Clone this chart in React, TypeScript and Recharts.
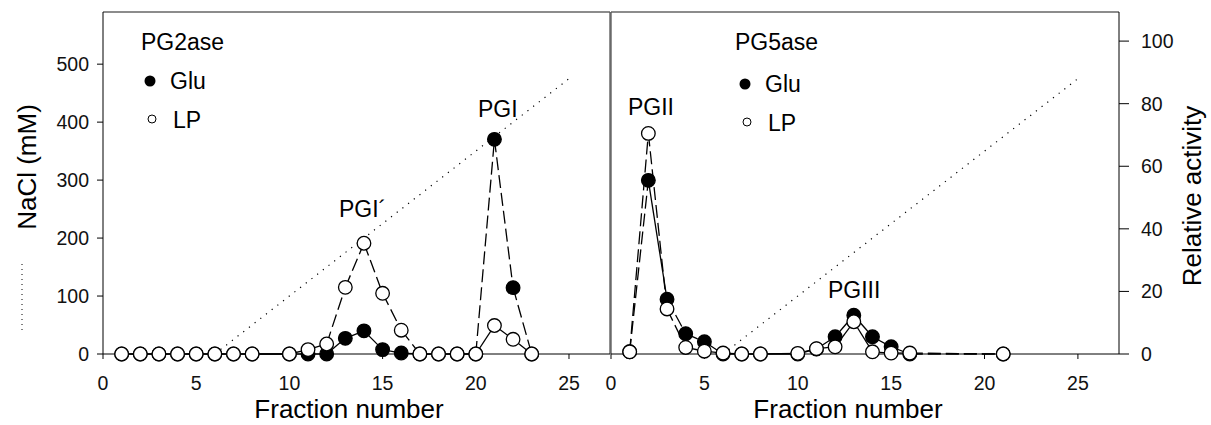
import React from "react"
import { ComposedChart, Line, XAxis, YAxis, ReferenceLine } from "recharts"

const FONT = '"Liberation Sans", Arial, sans-serif'

// PG2ase (left panel), relative activity per fraction
const leftFractions = [1, 2, 3, 4, 5, 6, 7, 8, 10, 11, 12, 13, 14, 15, 16, 17, 18, 19, 20, 21, 22, 23]
const leftGlu = [0, 0, 0, 0, 0, 0, 0, 0, 0, 0, 0, 5.0, 7.4, 1.4, 0.3, 0, 0, 0, 0, 68.6, 21.2, 0]
const leftLp = [0, 0, 0, 0, 0, 0, 0, 0, 0, 1.4, 3.2, 21.3, 35.4, 19.4, 7.6, 0, 0, 0, 0, 9.1, 4.7, 0]
// fractions where a dashed segment starts
const leftGluDashFrom = [20, 21, 22]
const leftLpDashFrom = [12, 13, 14, 15, 16]

// PG5ase (right panel)
const rightFractions = [1, 2, 3, 4, 5, 6, 7, 8, 10, 11, 12, 13, 14, 15, 16, 21]
const rightGlu = [0.7, 55.5, 17.5, 6.5, 3.9, 0, 0, 0, 0, 1.6, 5.5, 12.4, 5.5, 2.3, 0, 0]
const rightLp = [0.7, 70.5, 14.4, 2.1, 0.9, 0.3, 0, 0, 0.2, 1.7, 2.3, 10.3, 0.7, 0.3, 0.3, 0]
const rightGluDashFrom = [1, 3, 4, 16]
const rightLpDashFrom = [1, 2, 3, 4, 16]

// NaCl gradient (mM)
const gradientFractions = [6, 25]
const gradientNaCl = [0, 475]

const xTicks = [0, 5, 10, 15, 20, 25]
const naclTicks = [0, 100, 200, 300, 400, 500]
const activityTicks = [0, 20, 40, 60, 80, 100]

const X_MAX = 27.2
const NACL_MAX = 590
const ACT_MAX = 109.3

const tickStyle = { fontSize: 19.5, fill: "#111", fontFamily: FONT }

function segments(fr: number[], vals: number[], dashFrom: number[]) {
  return fr.slice(0, -1).map((f, i) => ({
    key: `${f}-${fr[i + 1]}`,
    dashed: dashFrom.includes(f),
    data: [
      { x: f, y: vals[i] },
      { x: fr[i + 1], y: vals[i + 1] },
    ],
  }))
}

function points(fr: number[], vals: number[]) {
  return fr.map((f, i) => ({ x: f, y: vals[i] }))
}

const gradient = gradientFractions.map((f, i) => ({ x: f, y: gradientNaCl[i] }))

function marker(filled: boolean) {
  return (p: any) => (
    <circle
      key={`m-${p.index}`}
      cx={p.cx}
      cy={p.cy}
      r={6.8}
      fill={filled ? "#000" : "#fff"}
      stroke="#000"
      strokeWidth={1.3}
    />
  )
}

function seriesLines(fr: number[], glu: number[], lp: number[], gluDash: number[], lpDash: number[]) {
  const all = [
    ...segments(fr, glu, gluDash).map((s) => ({ ...s, key: "g" + s.key })),
    ...segments(fr, lp, lpDash).map((s) => ({ ...s, key: "l" + s.key })),
  ]
  return all.map((s) => (
    <Line
      key={s.key}
      yAxisId="act"
      data={s.data}
      dataKey="y"
      type="linear"
      stroke="#000"
      strokeWidth={1.3}
      strokeDasharray={s.dashed ? "13 5" : undefined}
      dot={false}
      activeDot={false}
      isAnimationActive={false}
    />
  ))
}

function Panel({ side }: { side: "left" | "right" }) {
  const isLeft = side === "left"
  const fr = isLeft ? leftFractions : rightFractions
  const glu = isLeft ? leftGlu : rightGlu
  const lp = isLeft ? leftLp : rightLp
  return (
    <ComposedChart
      width={isLeft ? 615 : 631}
      height={425}
      margin={isLeft ? { top: 12, right: 5, bottom: 0, left: 43 } : { top: 12, right: 32, bottom: 0, left: 31 }}
    >
      <XAxis
        type="number"
        dataKey="x"
        domain={[0, X_MAX]}
        ticks={xTicks}
        height={71}
        tickSize={5}
        tickMargin={17}
        tick={tickStyle}
        stroke="#000"
      />
      <YAxis
        yAxisId="nacl"
        domain={[0, NACL_MAX]}
        ticks={naclTicks}
        width={60}
        tickSize={6}
        tickMargin={8}
        tick={tickStyle}
        stroke="#000"
        hide={!isLeft}
      />
      <YAxis
        yAxisId="act"
        orientation="right"
        domain={[0, ACT_MAX]}
        ticks={activityTicks}
        width={60}
        tickSize={10}
        tickMargin={12}
        tick={tickStyle}
        stroke="#000"
        hide={isLeft}
      />
      <ReferenceLine yAxisId="nacl" y={NACL_MAX} stroke="#666" strokeWidth={1.3} />
      <ReferenceLine yAxisId="nacl" x={isLeft ? X_MAX : 0} stroke="#555" strokeWidth={1.3} />
      <Line
        yAxisId="nacl"
        data={gradient}
        dataKey="y"
        type="linear"
        stroke="#000"
        strokeWidth={1.2}
        strokeDasharray="1.2 6"
        dot={false}
        activeDot={false}
        isAnimationActive={false}
      />
      {seriesLines(fr, glu, lp, isLeft ? leftGluDashFrom : rightGluDashFrom, isLeft ? leftLpDashFrom : rightLpDashFrom)}
      <Line
        yAxisId="act"
        data={points(fr, glu)}
        dataKey="y"
        stroke="none"
        dot={marker(true)}
        activeDot={false}
        isAnimationActive={false}
      />
      <Line
        yAxisId="act"
        data={points(fr, lp)}
        dataKey="y"
        stroke="none"
        dot={marker(false)}
        activeDot={false}
        isAnimationActive={false}
      />
    </ComposedChart>
  )
}

export default function App() {
  const ann = { fontFamily: FONT, fontSize: 23, fill: "#000" }
  const title = { fontFamily: FONT, fontSize: 26, fill: "#000" }
  return (
    <div style={{ position: "absolute", left: 0, top: 0, width: 1211, height: 425, background: "#fff" }}>
      <div style={{ position: "absolute", left: 0, top: 0 }}>
        <Panel side="left" />
      </div>
      <div style={{ position: "absolute", left: 580, top: 0 }}>
        <Panel side="right" />
      </div>
      <svg width={1211} height={425} style={{ position: "absolute", left: 0, top: 0, pointerEvents: "none" }}>
        {/* axis titles */}
        <text x={349} y={418} textAnchor="middle" style={title}>Fraction number</text>
        <text x={848} y={418} textAnchor="middle" style={title}>Fraction number</text>
        <text transform="translate(36,167) rotate(-90)" textAnchor="middle" style={title}>NaCl (mM)</text>
        <text transform="translate(1201,196) rotate(-90)" textAnchor="middle" style={title}>Relative activity</text>
        <line x1={22} y1={264} x2={22} y2={334} stroke="#000" strokeWidth={1} strokeDasharray="1 4" />

        {/* left panel legend */}
        <text x={141} y={50} style={ann}>PG2ase</text>
        <circle cx={150} cy={81} r={5.5} fill="#000" />
        <text x={170} y={89} style={ann}>Glu</text>
        <circle cx={152} cy={119} r={4} fill="#fff" stroke="#000" strokeWidth={1} />
        <text x={173} y={128} style={ann}>LP</text>
        <text x={478} y={117} style={ann}>PGI</text>
        <text x={339} y={217} style={ann}>PGI´</text>

        {/* right panel legend */}
        <text x={735} y={50} style={ann}>PG5ase</text>
        <circle cx={745} cy={84} r={5.5} fill="#000" />
        <text x={765} y={92} style={ann}>Glu</text>
        <circle cx={747} cy={122} r={4} fill="#fff" stroke="#000" strokeWidth={1} />
        <text x={768} y={131} style={ann}>LP</text>
        <text x={628} y={115} style={ann}>PGII</text>
        <text x={828} y={298} style={ann}>PGIII</text>
      </svg>
    </div>
  )
}
